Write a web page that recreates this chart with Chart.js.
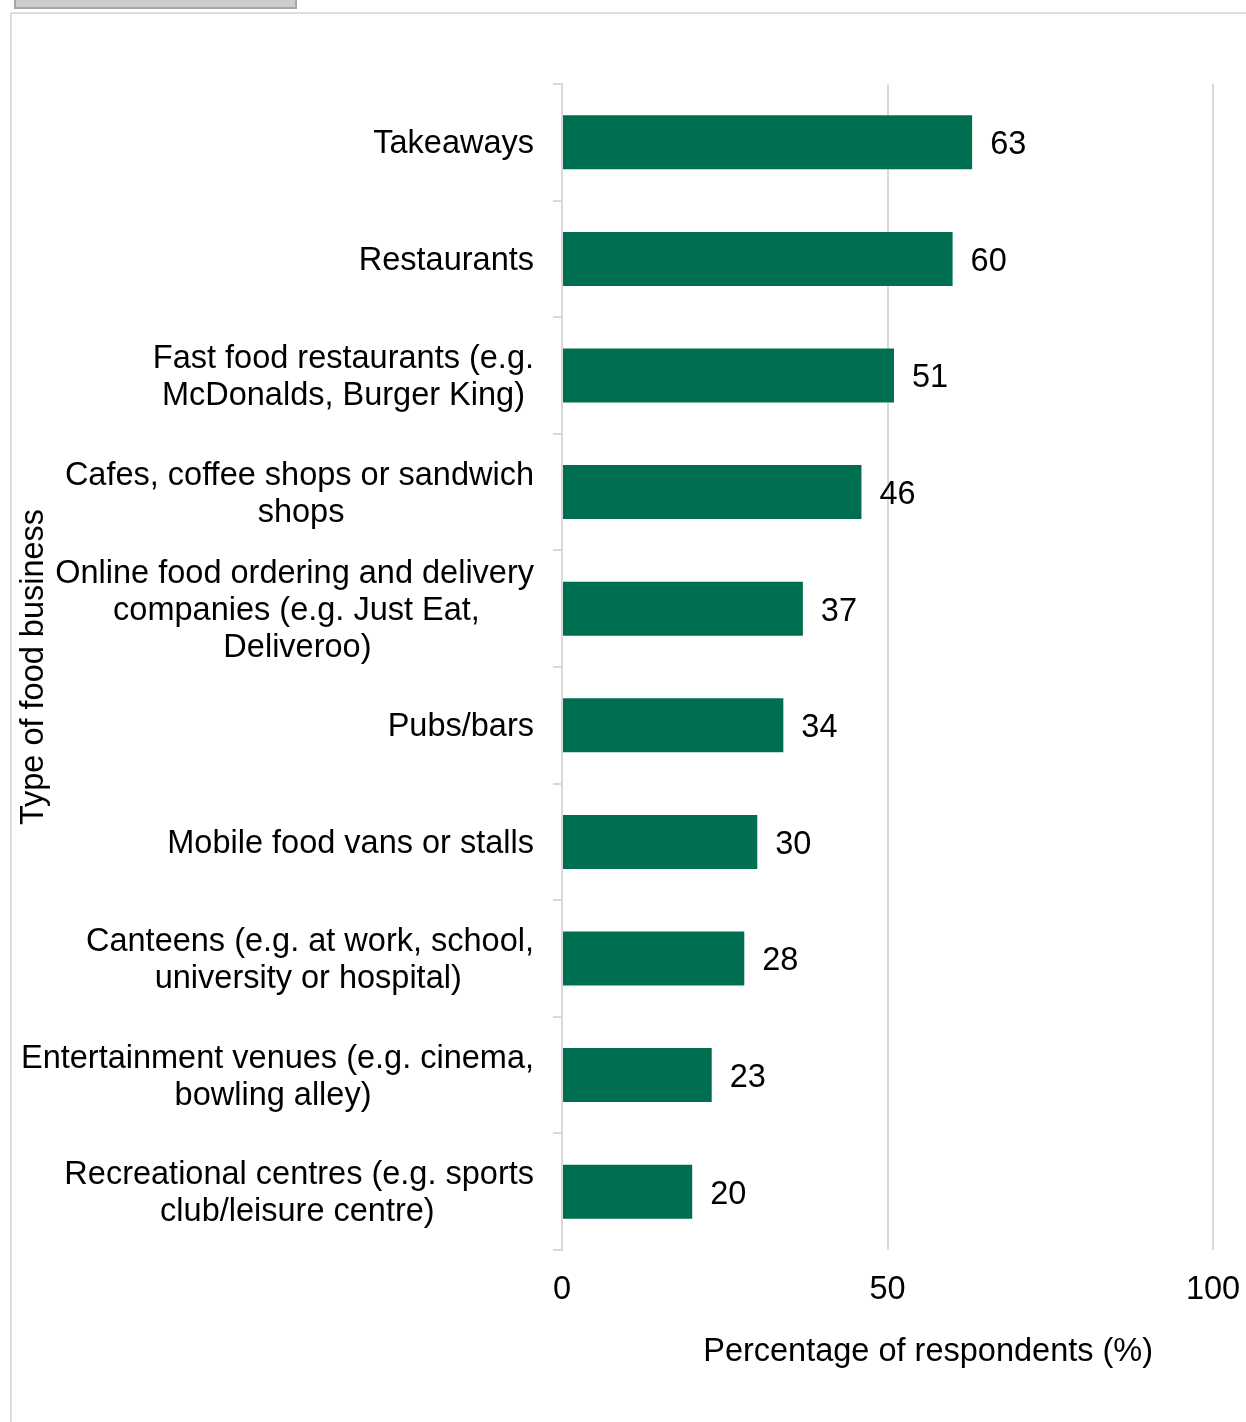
<!DOCTYPE html>
<html>
<head>
<meta charset="utf-8">
<title>Type of food business</title>
<script src="https://cdn.jsdelivr.net/npm/chart.js@4.4.1/dist/chart.umd.min.js"></script>
<style>
  body {
    margin: 0;
    background: #fff;
    width: 1246px;
    height: 1422px;
    overflow: hidden;
    position: relative;
  }
  .toggle {
    position: absolute;
    left: 14px;
    top: -20px;
    width: 279px;
    height: 25px;
    background: #cccccc;
    border: 2px solid #a6a6a6;
  }
  .frame {
    position: absolute;
    left: 10px;
    top: 12px;
    width: 1260px;
    height: 1430px;
    border: 2px solid #dddddd;
    box-sizing: border-box;
  }
  #chart {
    position: absolute;
    left: 0;
    top: 0;
  }
</style>
</head>
<body>
<div class="toggle"></div>
<div class="frame"></div>
<canvas id="chart" width="1246" height="1422"></canvas>
<script>
// data
const categories = [
  "Takeaways",
  "Restaurants",
  ["Fast food restaurants (e.g.", "McDonalds, Burger King)"],
  ["Cafes, coffee shops or sandwich", "shops"],
  ["Online food ordering and delivery", "companies (e.g. Just Eat,", "Deliveroo)"],
  "Pubs/bars",
  "Mobile food vans or stalls",
  ["Canteens (e.g. at work, school,", "university or hospital)"],
  ["Entertainment venues (e.g. cinema,", "bowling alley)"],
  ["Recreational centres (e.g. sports", "club/leisure centre)"],
];
const values = [63, 60, 51, 46, 37, 34, 30, 28, 23, 20];
const xTicks = [0, 50, 100];

const FONT = "'Liberation Sans', Arial, sans-serif";
const SIZE = 32.5;
const barColor = "#006f51";
const gridColor = "#d9d9d9";

// tick labels are right aligned, but wrapped lines sit centred under each other
const measureCtx = document.createElement("canvas").getContext("2d");
measureCtx.font = `${SIZE}px ${FONT}`;
const spaceWidth = measureCtx.measureText(" ").width;
const centerLines = (label) => {
  if (!Array.isArray(label)) return label;
  const widths = label.map((line) => measureCtx.measureText(line).width);
  const widest = Math.max(...widths);
  return label.map(
    (line, i) => line + " ".repeat(Math.round((widest - widths[i]) / 2 / spaceWidth))
  );
};
const tickLabels = categories.map(centerLines);

// value labels at the end of each bar
const valueLabels = {
  id: "valueLabels",
  afterDatasetsDraw(chart) {
    const { ctx } = chart;
    const meta = chart.getDatasetMeta(0);
    ctx.save();
    ctx.font = `${SIZE}px ${FONT}`;
    ctx.fillStyle = "#000";
    ctx.textAlign = "left";
    ctx.textBaseline = "middle";
    meta.data.forEach((bar, i) => {
      ctx.fillText(values[i], bar.x + 18, bar.y + 3);
    });
    ctx.restore();
  },
};

new Chart(document.getElementById("chart"), {
  type: "bar",
  data: {
    labels: tickLabels,
    datasets: [
      {
        data: values,
        backgroundColor: barColor,
        borderWidth: 0,
        barPercentage: 0.463,
        categoryPercentage: 1,
      },
    ],
  },
  options: {
    indexAxis: "y",
    responsive: false,
    animation: false,
    layout: { padding: { top: 84, right: 33, left: 0, bottom: 0 } },
    plugins: {
      legend: { display: false },
      tooltip: { enabled: false },
    },
    scales: {
      x: {
        min: 0,
        max: 100,
        afterBuildTicks: (scale) => {
          scale.ticks = xTicks.map((v) => ({ value: v }));
        },
        afterFit: (scale) => {
          scale.height = 172;
          scale.paddingLeft = 0;
          scale.paddingRight = 0;
        },
        border: { display: false },
        grid: { color: gridColor, lineWidth: 2, drawTicks: false },
        ticks: {
          color: "#000",
          padding: 21,
          font: { family: FONT, size: SIZE, lineHeight: 1.2 },
        },
        title: {
          display: true,
          text: "         Percentage of respondents (%)",
          color: "#000",
          font: { family: FONT, size: SIZE, lineHeight: 1.2 },
          padding: { top: 0, bottom: 50 },
        },
      },
      y: {
        afterFit: (scale) => {
          scale.width = 562;
        },
        border: { display: true, color: gridColor, width: 2 },
        grid: {
          offset: true,
          drawOnChartArea: false,
          drawTicks: true,
          tickLength: 9,
          color: gridColor,
          lineWidth: 2,
        },
        ticks: {
          color: "#000",
          padding: 19,
          labelOffset: 2,
          autoSkip: false,
          font: { family: FONT, size: SIZE, lineHeight: 37 / SIZE },
        },
        title: {
          display: true,
          text: "Type of food business",
          color: "#000",
          font: { family: FONT, size: SIZE, lineHeight: 1.2 },
          padding: { top: 15, bottom: 0 },
        },
      },
    },
  },
  plugins: [valueLabels],
});
</script>
</body>
</html>
